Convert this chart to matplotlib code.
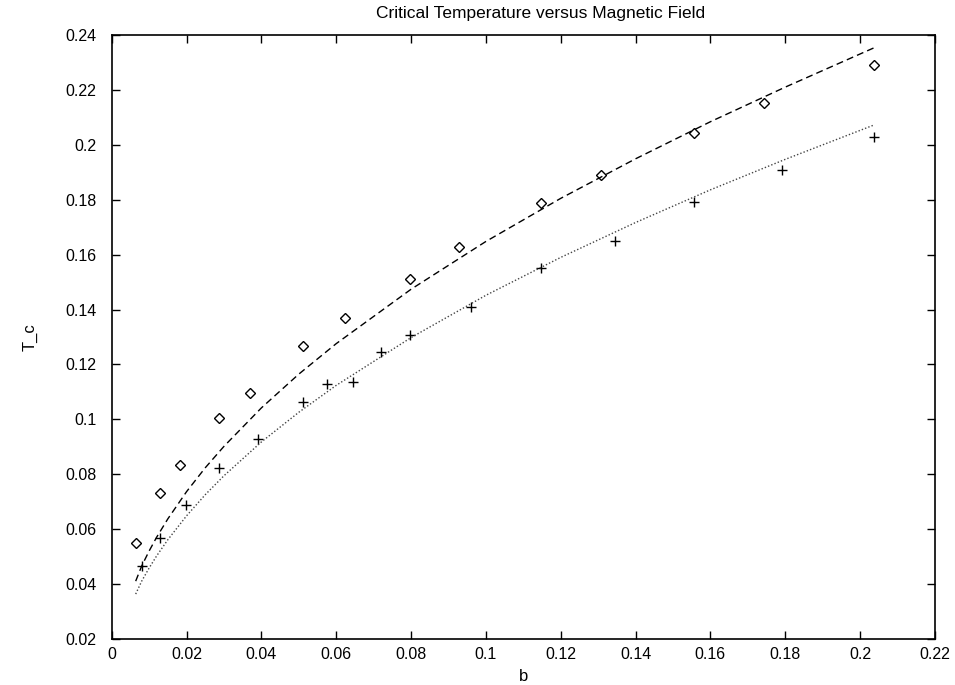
import numpy as np
import matplotlib.pyplot as plt

plt.rcParams['font.family'] = ['Liberation Sans', 'DejaVu Sans']

# measured points (diamonds)
b_diam = [0.0064, 0.0128, 0.0182, 0.0286, 0.0369, 0.0511, 0.0623, 0.0797,
          0.0928, 0.1147, 0.1307, 0.1556, 0.1743, 0.2037]
tc_diam = [0.0550, 0.0732, 0.0834, 0.1005, 0.1096, 0.1267, 0.1370, 0.1511,
           0.1628, 0.1788, 0.1890, 0.2043, 0.2153, 0.2291]

# measured points (plus)
b_plus = [0.0080, 0.0128, 0.0198, 0.0286, 0.0390, 0.0511, 0.0575, 0.0644,
          0.0719, 0.0797, 0.0960, 0.1147, 0.1345, 0.1556, 0.1791, 0.2037]
tc_plus = [0.0466, 0.0568, 0.0688, 0.0823, 0.0929, 0.1063, 0.1129, 0.1136,
           0.1246, 0.1307, 0.1410, 0.1552, 0.1650, 0.1792, 0.1909, 0.2029]

# fitted curves
b_fit = [0.0064, 0.008, 0.010, 0.012, 0.015, 0.020, 0.025, 0.030, 0.040,
         0.050, 0.060, 0.080, 0.100, 0.120, 0.140, 0.160, 0.180, 0.2037]
tc_fit_dash = [0.0411, 0.0466, 0.0521, 0.0571, 0.0638, 0.0737, 0.0824, 0.0902,
               0.1042, 0.1165, 0.1276, 0.1474, 0.1648, 0.1805, 0.1949, 0.2084,
               0.2210, 0.2353]
tc_fit_dot = [0.0364, 0.0411, 0.0459, 0.0503, 0.0562, 0.0649, 0.0726, 0.0795,
              0.0918, 0.1026, 0.1124, 0.1298, 0.1452, 0.1590, 0.1717, 0.1836,
              0.1947, 0.2072]

fig = plt.figure(figsize=(9.55, 6.85), dpi=100)
ax = fig.add_axes([0.117, 0.067, 0.862, 0.882])

ax.plot(b_diam, tc_diam, 'D', ms=5, mfc='none', mec='black', mew=1.0)
ax.plot(b_fit, tc_fit_dash, color='black', lw=1.0, linestyle=(0, (5, 3)))
ax.plot(b_plus, tc_plus, '+', ms=7, color='black', mew=1.0)
ax.plot(b_fit, tc_fit_dot, color='#444444', lw=1.0, linestyle=(0, (1, 1.5)))

ax.set_xlim(0, 0.22)
ax.set_ylim(0.02, 0.24)
ax.set_xticks(np.arange(0, 0.2201, 0.02))
ax.set_yticks(np.arange(0.02, 0.2401, 0.02))
ax.set_xticklabels(['0', '0.02', '0.04', '0.06', '0.08', '0.1', '0.12',
                    '0.14', '0.16', '0.18', '0.2', '0.22'])
ax.set_yticklabels(['0.02', '0.04', '0.06', '0.08', '0.1', '0.12', '0.14',
                    '0.16', '0.18', '0.2', '0.22', '0.24'])
ax.tick_params(direction='in', length=6, width=1, top=True, right=True,
               labelsize=11.5)
ax.tick_params(axis='y', pad=11)
ax.tick_params(axis='x', pad=6)
for s in ax.spines.values():
    s.set_linewidth(1.2)

ax.set_title("Critical Temperature versus Magnetic Field", fontsize=12.5,
             pad=12, x=0.521)
ax.set_xlabel("b", fontsize=12, labelpad=5)
ax.set_ylabel("T_c", fontsize=12, labelpad=20)

fig.savefig("out.png", dpi=100)
